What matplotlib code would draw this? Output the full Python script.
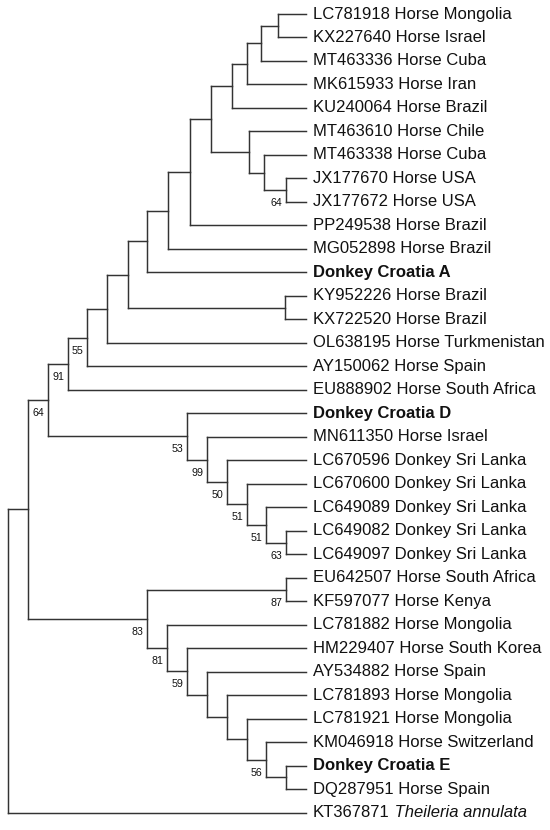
import matplotlib
matplotlib.use("Agg")
import matplotlib.pyplot as plt
from matplotlib.collections import LineCollection

plt.rcParams['font.family'] = ['Liberation Sans', 'DejaVu Sans']

# topology-only tree, branch lengths roughly in pixels, node labels = bootstrap
newick = (
    "(((((((((((((((LC781918:28,KX227640:28):17,MT463336:45):14,MK615933:59):15,"
    "KU240064:74):21,(MT463610:57,(MT463338:42,(JX177670:20,JX177672:20)64:22):15):38):21,"
    "PP249538:116):22,MG052898:138):21,DonkeyA:159):19,(KY952226:21,KX722520:21):157):21,"
    "OL638195:199):20,AY150062:219)55:19,EU888902:238)91:20,"
    "(DonkeyD:119,(MN611350:99,(LC670596:79,(LC670600:59,(LC649089:40,"
    "(LC649082:20,LC649097:20)63:20)51:19)51:20)50:20)99:20)53:139)64:20,"
    "((EU642507:20,KF597077:20)87:139,(LC781882:139,(HM229407:119,(AY534882:99,"
    "(LC781893:79,(LC781921:59,(KM046918:40,(DonkeyE:20,DQ287951:20):20)56:19):20):20):20)59:20)81:20)83:119):20,"
    "KT367871:298);"
)

tip_labels = {
    "LC781918": "LC781918 Horse Mongolia",
    "KX227640": "KX227640 Horse Israel",
    "MT463336": "MT463336 Horse Cuba",
    "MK615933": "MK615933 Horse Iran",
    "KU240064": "KU240064 Horse Brazil",
    "MT463610": "MT463610 Horse Chile",
    "MT463338": "MT463338 Horse Cuba",
    "JX177670": "JX177670 Horse USA",
    "JX177672": "JX177672 Horse USA",
    "PP249538": "PP249538 Horse Brazil",
    "MG052898": "MG052898 Horse Brazil",
    "DonkeyA": "Donkey Croatia A",
    "KY952226": "KY952226 Horse Brazil",
    "KX722520": "KX722520 Horse Brazil",
    "OL638195": "OL638195 Horse Turkmenistan",
    "AY150062": "AY150062 Horse Spain",
    "EU888902": "EU888902 Horse South Africa",
    "DonkeyD": "Donkey Croatia D",
    "MN611350": "MN611350 Horse Israel",
    "LC670596": "LC670596 Donkey Sri Lanka",
    "LC670600": "LC670600 Donkey Sri Lanka",
    "LC649089": "LC649089 Donkey Sri Lanka",
    "LC649082": "LC649082 Donkey Sri Lanka",
    "LC649097": "LC649097 Donkey Sri Lanka",
    "EU642507": "EU642507 Horse South Africa",
    "KF597077": "KF597077 Horse Kenya",
    "LC781882": "LC781882 Horse Mongolia",
    "HM229407": "HM229407 Horse South Korea",
    "AY534882": "AY534882 Horse Spain",
    "LC781893": "LC781893 Horse Mongolia",
    "LC781921": "LC781921 Horse Mongolia",
    "KM046918": "KM046918 Horse Switzerland",
    "DonkeyE": "Donkey Croatia E",
    "DQ287951": "DQ287951 Horse Spain",
    "KT367871": "KT367871",
}
bold_tips = ["DonkeyA", "DonkeyD", "DonkeyE"]
italic_tail = {"KT367871": "Theileria annulata"}


def parse(s):
    pos = 0

    def node():
        nonlocal pos
        n = {"children": [], "name": "", "len": 0.0}
        if s[pos] == "(":
            pos += 1
            n["children"].append(node())
            while s[pos] == ",":
                pos += 1
                n["children"].append(node())
            assert s[pos] == ")", (pos, s[pos - 20:pos + 5])
            pos += 1
        start = pos
        while s[pos] not in ",():;":
            pos += 1
        n["name"] = s[start:pos]
        if s[pos] == ":":
            pos += 1
            start = pos
            while s[pos] not in ",();":
                pos += 1
            n["len"] = float(s[start:pos])
        return n

    root = node()
    assert s[pos] == ";"
    return root


tree = parse(newick)

segs = []
leaves = []
inner = []


def layout(n, x0):
    n["x"] = x0 + n["len"]
    if not n["children"]:
        n["y"] = len(leaves)
        leaves.append(n)
        return
    for c in n["children"]:
        layout(c, n["x"])
    n["y"] = (n["children"][0]["y"] + n["children"][-1]["y"]) / 2
    segs.append([(n["x"], n["children"][0]["y"]), (n["x"], n["children"][-1]["y"])])
    for c in n["children"]:
        segs.append([(n["x"], c["y"]), (c["x"], c["y"])])
    inner.append(n)


layout(tree, 0.0)

fig = plt.figure(figsize=(5.5, 8.3), dpi=100)
ax = fig.add_axes([0, 0, 1, 1])
ax.axis("off")
ax.set_xlim(-8, 542)
ax.set_ylim(len(leaves) - 1 + 17.3 / 23.49, -14 / 23.49)

ax.add_collection(LineCollection(segs, colors="#333333", linewidths=1.05,
                                 capstyle="projecting"))

for lf in leaves:
    weight = "bold" if lf["name"] in bold_tips else "normal"
    t = ax.annotate(tip_labels[lf["name"]], xy=(lf["x"], lf["y"]), xytext=(7, 0),
                    textcoords="offset pixels", ha="left", va="center",
                    fontsize=12, fontweight=weight, color="#111111")
    if lf["name"] in italic_tail:
        ax.annotate(" " + italic_tail[lf["name"]], xy=(1, 0), xycoords=t,
                    ha="left", va="bottom", fontsize=12, fontstyle="italic",
                    color="#111111")

for n in inner:
    if n["name"]:
        ax.annotate(n["name"], xy=(n["x"], n["y"]), xytext=(-4, -13),
                    textcoords="offset pixels", ha="right", va="center",
                    fontsize=7.7, color="#111111")

fig.savefig("out.png", dpi=100, facecolor="white")
